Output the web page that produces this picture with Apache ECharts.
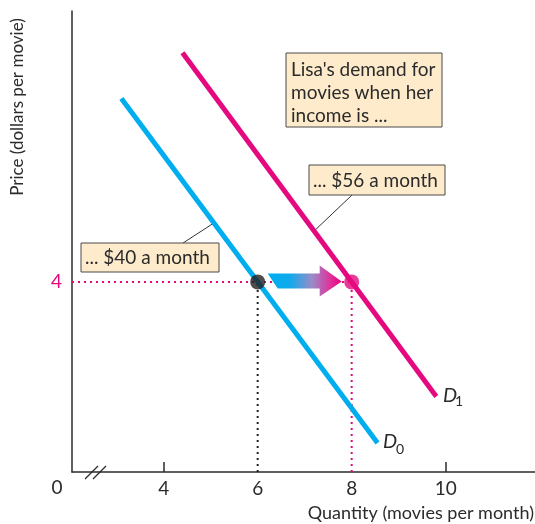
<!DOCTYPE html>
<html><head><meta charset="utf-8">
<script src="https://cdn.jsdelivr.net/npm/echarts@6/dist/echarts.min.js"></script>
<style>html,body{margin:0;padding:0;background:#fff}#c{width:535px;height:524px}</style>
</head><body><div id="c"></div>
<script>
// ---- data ----
const xTickLabels = [4, 6, 8, 10];
const xTickMarks = [4, 10];
const yTickLabels = [4];
const demandD0 = [[3.1, 7.86], [8.55, 0.61]];
const demandD1 = [[4.4, 8.82], [9.8, 1.59]];
const pointD0 = [6, 4];
const pointD1 = [8, 4];
const guidePrice = [[2.05, 4], [8, 4]];
const guideQ0 = [[6, 0], [6, 4]];
const guideQ1 = [[8, 0], [8, 4]];
const shiftArrow = [[6, 4, 8, 4]];
const xRange = [2.05, 11.9];
const yRange = [0, 9.7];
const leader56Y = 5.07;
const leader40Y = 5.24;

const PINK = '#E5097F', CYAN = '#00AEEF', INK = '#2b2b2b';
const FONT = 'Lato';

const chart = echarts.init(document.getElementById('c'));
const option = {
  animation: false,
  grid: { left: 72, right: 0, top: 11, bottom: 52 },
  xAxis: {
    type: 'value', min: xRange[0], max: xRange[1],
    splitLine: { show: false },
    axisLine: { lineStyle: { color: INK, width: 1.5 } },
    axisTick: { show: true, inside: true, length: 10, customValues: xTickMarks, lineStyle: { color: INK, width: 1.5 } },
    axisLabel: {
      customValues: xTickLabels, margin: 7, fontFamily: FONT, fontSize: 19,
      color: (v) => (v === 8 ? PINK : INK)
    }
  },
  yAxis: {
    type: 'value', min: yRange[0], max: yRange[1],
    splitLine: { show: false },
    axisLine: { onZero: false, lineStyle: { color: INK, width: 1.5 } },
    axisTick: { show: false },
    axisLabel: { customValues: yTickLabels, margin: 10, fontFamily: FONT, fontSize: 19, color: PINK }
  },
  series: [
    { type: 'line', data: guidePrice, symbol: 'none', z: 1, lineStyle: { color: PINK, width: 2, type: [2, 4] } },
    { type: 'line', data: guideQ0, symbol: 'none', z: 1, lineStyle: { color: '#222', width: 2, type: [2, 4] } },
    { type: 'line', data: guideQ1, symbol: 'none', z: 1, lineStyle: { color: PINK, width: 2, type: [2, 4] } },
    { type: 'line', data: demandD0, symbol: 'none', z: 2, lineStyle: { color: CYAN, width: 5 } },
    { type: 'line', data: demandD1, symbol: 'none', z: 2, lineStyle: { color: PINK, width: 5 } },
    {
      type: 'custom', data: shiftArrow, z: 3,
      renderItem: function (params, api) {
        const a = api.coord([api.value(0), api.value(1)]);
        const b = api.coord([api.value(2), api.value(3)]);
        const y = a[1] - 0.5;
        const x0 = a[0] + 10, tip = b[0] - 10, hb = tip - 22;
        return {
          type: 'polygon',
          shape: { points: [[x0, y - 8], [hb, y - 8], [hb, y - 16], [tip, y], [hb, y + 15], [hb, y + 7], [x0 + 10, y + 7]] },
          style: {
            fill: new echarts.graphic.LinearGradient(0, 0, 1, 0, [
              { offset: 0, color: '#00AEEF' }, { offset: 0.3, color: '#10AAEB' },
              { offset: 0.6, color: '#9A8CC8' }, { offset: 0.85, color: '#E0309A' }, { offset: 1, color: '#E6007E' }
            ])
          }
        };
      }
    },
    { type: 'scatter', data: [pointD0], symbolSize: 15, z: 4, itemStyle: { color: '#231F20' } },
    { type: 'scatter', data: [pointD1], symbolSize: 15, z: 4, itemStyle: { color: PINK } }
  ]
};
chart.setOption(option);

function xOnLine(pts, y) {
  const [p, q] = pts;
  return p[0] + (y - p[1]) * (q[0] - p[0]) / (q[1] - p[1]);
}
const t56 = chart.convertToPixel({ gridIndex: 0 }, [xOnLine(demandD1, leader56Y), leader56Y]);
const t40 = chart.convertToPixel({ gridIndex: 0 }, [xOnLine(demandD0, leader40Y), leader40Y]);

const boxFill = '#FEEBCB', boxStroke = '#4a4a4a';
const txt = (x, y, text, extra) => ({ type: 'text', x, y, style: Object.assign({ text, fill: INK, font: '19px ' + FONT }, extra || {}) });
chart.setOption({
  graphic: [
    { type: 'line', shape: { x1: 352, y1: 195, x2: t56[0], y2: t56[1] }, style: { stroke: '#333', lineWidth: 1 } },
    { type: 'line', shape: { x1: 183, y1: 243, x2: t40[0], y2: t40[1] }, style: { stroke: '#333', lineWidth: 1 } },
    { type: 'rect', shape: { x: 286, y: 53, width: 156, height: 74 }, style: { fill: boxFill, stroke: boxStroke, lineWidth: 1 } },
    txt(291, 58.5, "Lisa's demand for\nmovies when her\nincome is ...", { lineHeight: 23 }),
    { type: 'rect', shape: { x: 309, y: 165, width: 136, height: 30 }, style: { fill: boxFill, stroke: boxStroke, lineWidth: 1 } },
    txt(313, 180.5, '... $56 a month', { verticalAlign: 'middle' }),
    { type: 'rect', shape: { x: 81, y: 243, width: 138, height: 29 }, style: { fill: boxFill, stroke: boxStroke, lineWidth: 1 } },
    txt(85, 258, '... $40 a month', { verticalAlign: 'middle' }),
    txt(450, 396, 'D', { font: 'italic 20px ' + FONT, align: 'center', verticalAlign: 'middle' }),
    txt(459, 401, '1', { font: '14px ' + FONT, align: 'center', verticalAlign: 'middle' }),
    txt(390, 442, 'D', { font: 'italic 20px ' + FONT, align: 'center', verticalAlign: 'middle' }),
    txt(400, 449, '0', { font: '14px ' + FONT, align: 'center', verticalAlign: 'middle' }),
    txt(57, 488, '0', { align: 'center', verticalAlign: 'middle' }),
    { type: 'line', shape: { x1: 85, y1: 479, x2: 98, y2: 466 }, style: { stroke: INK, lineWidth: 1.2 } },
    { type: 'line', shape: { x1: 93, y1: 479, x2: 106, y2: 466 }, style: { stroke: INK, lineWidth: 1.2 } },
    txt(534, 513, 'Quantity (movies per month)', { align: 'right', verticalAlign: 'middle', font: '18px ' + FONT }),
    { type: 'text', x: 18, y: 107, rotation: Math.PI / 2, style: { text: 'Price (dollars per movie)', fill: INK, font: '17px ' + FONT, align: 'center', verticalAlign: 'middle' } }
  ]
});
</script></body></html>
